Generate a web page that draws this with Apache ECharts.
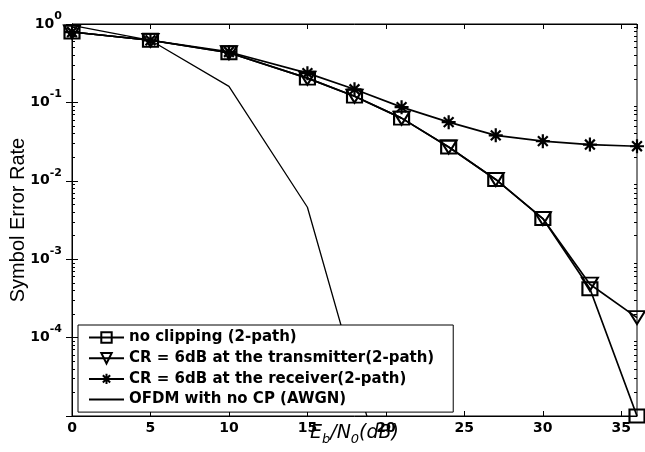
<!DOCTYPE html>
<html>
<head>
<meta charset="utf-8">
<script src="https://cdn.jsdelivr.net/npm/echarts@6/dist/echarts.min.js"></script>
<style>html,body{margin:0;padding:0;background:#fff}#c{width:645px;height:452px}</style>
</head>
<body>
<div id="c"></div>
<script>
// ---- data ----
const ebno = [0, 5, 10, 15, 18, 21, 24, 27, 30, 33, 36];
const serNoClip = [0.79, 0.62, 0.43, 0.204, 0.12, 0.063, 0.027, 0.0104, 0.0033, 0.00042, 0.00001];
const serTx = [0.79, 0.62, 0.43, 0.204, 0.12, 0.063, 0.027, 0.0104, 0.0033, 0.00048, 0.00018];
const serRx = [0.79, 0.62, 0.44, 0.236, 0.147, 0.087, 0.056, 0.038, 0.032, 0.029, 0.0276];
const ofdmX = [0, 5, 10, 15, 20];
const ofdmSer = [0.96, 0.62, 0.16, 0.0046, 0.0000014];
const seriesNames = ['no clipping (2-path)', 'CR = 6dB at the transmitter(2-path)', 'CR = 6dB at the receiver(2-path)', 'OFDM with no CP (AWGN)'];
const minorTickVals = [];
for (let e = -5; e < 0; e++) for (let m = 2; m <= 9; m++) minorTickVals.push(m * Math.pow(10, e));

const pairs = (xs, ys) => xs.map((x, i) => [x, ys[i]]);
const FONT = 'DejaVu Sans';
const chart = echarts.init(document.getElementById('c'), null, {renderer: 'canvas'});

const axLine = {show: true, lineStyle: {color: '#000', width: 1}};
const baseX = {type: 'value', min: 0, max: 36, interval: 5, splitLine: {show: false}, axisLine: axLine};
const baseY = {type: 'log', logBase: 10, min: 1e-5, max: 1, splitLine: {show: false}, axisLine: axLine};

const supRich = {
  b: {fontFamily: FONT, fontWeight: 'bold', fontSize: 14, color: '#000', lineHeight: 27, verticalAlign: 'middle'},
  s: {fontFamily: FONT, fontWeight: 'bold', fontSize: 11, color: '#000', lineHeight: 11, verticalAlign: 'top'}
};

const option = {
  backgroundColor: '#fff',
  animation: false,
  grid: {left: 72, top: 24, right: 8, bottom: 36, outerBoundsMode: 'none', containLabel: false,
         show: true, borderColor: '#000', borderWidth: 1},
  legend: {
    orient: 'vertical', left: 78, top: 325,
    padding: [5, 19, 5, 10],
    itemWidth: 35, itemHeight: 13, itemGap: 5.7,
    backgroundColor: '#fff', borderColor: '#000', borderWidth: 1,
    textStyle: {fontFamily: FONT, fontWeight: 'bold', fontSize: 15, color: '#000'},
    data: seriesNames
  },
  xAxis: [
    Object.assign({}, baseX, {
      position: 'bottom',
      axisTick: {show: true, inside: true, length: 5, lineStyle: {color: '#000'}},
      axisLabel: {fontFamily: FONT, fontWeight: 'bold', fontSize: 14, color: '#000', margin: 5, showMaxLabel: false},
      name: '{i|E}{sb|b}{i|/N}{sb|0}{i|(dB)}',
      nameLocation: 'middle', nameGap: 4, nameMoveOverlap: false,
      nameTextStyle: {
        rich: {
          i: {fontFamily: FONT, fontStyle: 'italic', fontSize: 19, color: '#000', lineHeight: 26, verticalAlign: 'middle'},
          sb: {fontFamily: FONT, fontStyle: 'italic', fontSize: 13, color: '#000', lineHeight: 12, verticalAlign: 'bottom'}
        }
      }
    }),
    Object.assign({}, baseX, {
      position: 'top',
      axisTick: {show: true, inside: true, length: 5, lineStyle: {color: '#000'}},
      axisLabel: {show: false}
    })
  ],
  yAxis: [
    Object.assign({}, baseY, {
      position: 'left',
      axisTick: {show: true, inside: true, length: 6, lineStyle: {color: '#000'}},
      axisLabel: {
        margin: 10, showMinLabel: false,
        formatter: v => '{b|10}{s|' + Math.round(Math.log10(v)) + '}',
        rich: supRich
      },
      name: 'Symbol Error Rate', nameLocation: 'middle', nameGap: 44, nameMoveOverlap: false,
      nameTextStyle: {fontFamily: 'Liberation Sans', fontSize: 20, color: '#000'}
    }),
    Object.assign({}, baseY, {
      position: 'right',
      axisTick: {show: true, inside: true, length: 6, lineStyle: {color: '#000'}},
      axisLabel: {show: false}
    }),
    Object.assign({}, baseY, {
      position: 'left', axisLine: {show: false},
      axisTick: {show: true, inside: true, length: 3, customValues: minorTickVals, lineStyle: {color: '#000'}},
      axisLabel: {show: false}
    }),
    Object.assign({}, baseY, {
      position: 'right', axisLine: {show: false},
      axisTick: {show: true, inside: true, length: 3, customValues: minorTickVals, lineStyle: {color: '#000'}},
      axisLabel: {show: false}
    })
  ],
  series: [
    {
      name: seriesNames[0], type: 'line', data: pairs(ebno, serNoClip),
      symbol: 'rect', symbolSize: [15, 13],
      lineStyle: {color: '#000', width: 1.7},
      itemStyle: {color: 'rgba(0,0,0,0)', borderColor: '#000', borderWidth: 2},
      z: 3
    },
    {
      name: seriesNames[1], type: 'line', data: pairs(ebno, serTx),
      symbol: 'path://M0,0 L10,0 L5,9 Z', symbolSize: [16, 13],
      lineStyle: {color: '#000', width: 1.7},
      itemStyle: {color: 'rgba(0,0,0,0)', borderColor: '#000', borderWidth: 2},
      z: 3
    },
    {
      name: seriesNames[2], type: 'line', data: pairs(ebno, serRx),
      symbol: 'path://M5,0 L5,10 M0,5 L10,5 M1.5,1.5 L8.5,8.5 M1.5,8.5 L8.5,1.5', symbolSize: [14, 14],
      lineStyle: {color: '#000', width: 1.7},
      itemStyle: {color: 'rgba(0,0,0,0)', borderColor: '#000', borderWidth: 2.2},
      z: 3
    },
    {
      name: seriesNames[3], type: 'line', data: pairs(ofdmX, ofdmSer),
      symbol: 'circle', showSymbol: false,
      lineStyle: {color: '#000', width: 1.3},
      itemStyle: {color: 'rgba(0,0,0,0)', borderColor: 'rgba(0,0,0,0)', borderWidth: 0},
      z: 2
    }
  ]
};
chart.setOption(option);
</script>
</body>
</html>
